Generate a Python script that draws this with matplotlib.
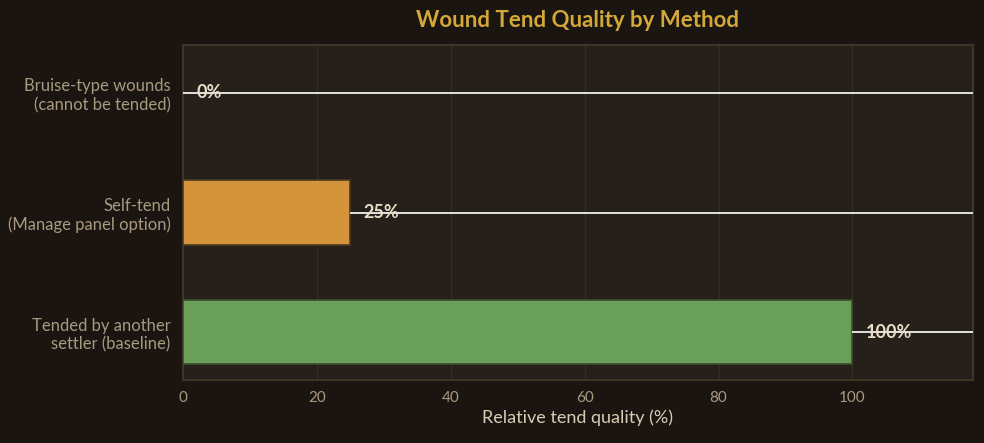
import matplotlib
matplotlib.use("Agg")
import matplotlib.pyplot as plt

# data
categories = ["Bruise-type wounds\n(cannot be tended)",
              "Self-tend\n(Manage panel option)",
              "Tended by another\nsettler (baseline)"]
quality = [0, 25, 100]
bar_colors = ["#d4943a", "#d4943a", "#6a9f5a"]
edge_colors = ["#3d3526", "#4a3a22", "#3a4f2c"]
xticks = [0, 20, 40, 60, 80, 100]

plt.rcParams['font.family'] = ['Lato', 'DejaVu Sans']

fig = plt.figure(figsize=(9.84, 4.43), dpi=100, facecolor="#1a1511")
ax = fig.add_axes([183/984, 1 - 380/443, 790/984, 335/443])
ax.set_facecolor("#25201a")

ypos = list(range(len(categories)))
ax.barh(ypos, quality, height=0.54, color=bar_colors, edgecolor=edge_colors,
        linewidth=1.2, zorder=3)

xmax = 118
# white leader lines from bar end to the right edge
for y, v in zip(ypos, quality):
    ax.hlines(y, v, xmax, color="#f4f2ee", linewidth=1.3, zorder=4)
    ax.text(v + 2, y, "{}%".format(v), va="center", ha="left", fontsize=13,
            fontweight="bold", color="#e8dcc8", zorder=5)

ax.set_xlim(0, xmax)
ax.set_ylim(2.4, -0.4)
ax.set_yticks(ypos)
ax.set_yticklabels(categories, fontsize=12, color="#a89a80")
ax.set_xticks(xticks)
ax.tick_params(axis="x", colors="#a89a80", labelsize=11, length=0, pad=8)
ax.tick_params(axis="y", length=0, pad=9)
for lab in ax.get_yticklabels():
    lab.set_horizontalalignment("right")

ax.grid(axis="x", color="#332d22", linewidth=1, zorder=0)
ax.set_axisbelow(True)
for s in ax.spines.values():
    s.set_color("#3d3526")
    s.set_linewidth(1.5)

ax.set_xlabel("Relative tend quality (%)", fontsize=13, color="#d8ccb4", labelpad=3)
ax.set_title("Wound Tend Quality by Method", fontsize=16, fontweight="bold",
             color="#d4a838", pad=13)

fig.savefig("out.png", dpi=100, facecolor=fig.get_facecolor())
